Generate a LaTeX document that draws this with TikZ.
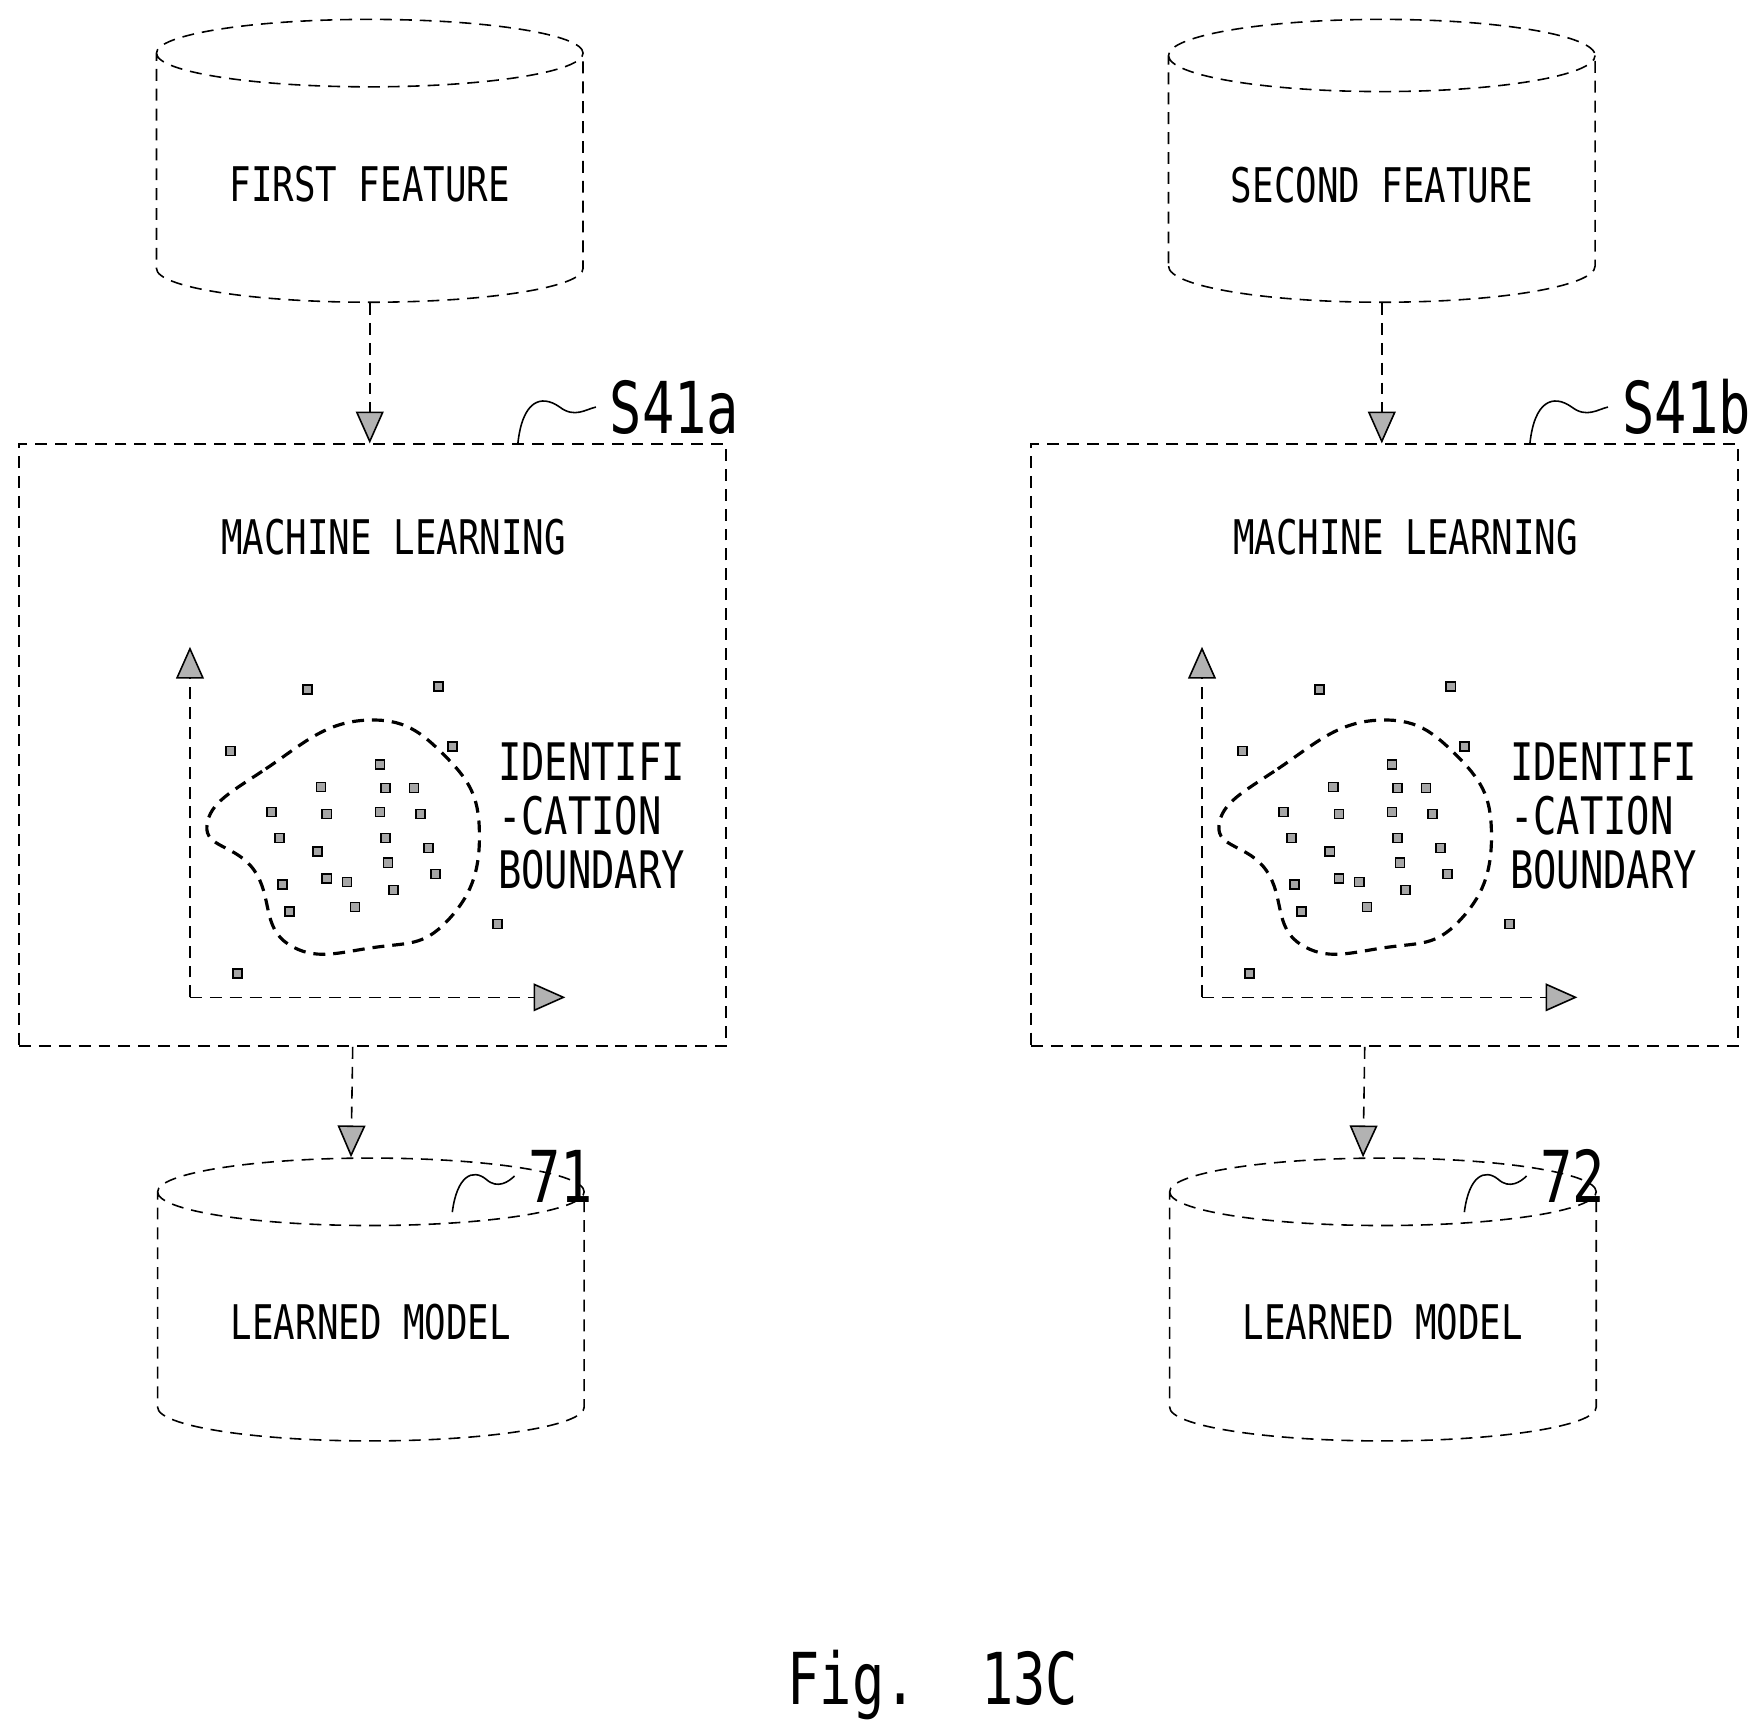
\documentclass[tikz,border=0pt]{standalone}
\usepackage{fontspec}
\setmainfont{DejaVu Sans Mono}[FakeStretch=0.75]
\usetikzlibrary{shapes.geometric,arrows.meta,positioning}
\begin{document}
\begin{tikzpicture}[x=0.01cm,y=-0.01cm,
    db/.style={cylinder,shape border rotate=90,aspect=0.22,draw,densely dashed,anchor=bottom,
      minimum width=3.77cm,minimum height=2.5cm,font=\fontsize{12}{14}\selectfont},
    mlbox/.style={draw,densely dashed,minimum width=6.25cm,minimum height=5.32cm},
    flow/.style={densely dashed,-{Triangle[fill=gray!60,length=8pt,width=7pt]}},
    lbl/.style={font=\fontsize{18}{20}\selectfont},
    pt/.style={draw,fill=gray!70,minimum size=0.08cm,inner sep=0pt}]
  \useasboundingbox (0,0) rectangle (1560,1525);
  \foreach \c/\x/\feat/\stp/\num in {a/0/FIRST FEATURE/S41a/71,b/895/SECOND FEATURE/S41b/72}{
    \begin{scope}[xshift=\x*0.01cm]
      \node[db] (feat\c) at (327,268) {\feat};
      \node[mlbox] (ml\c) at (329.5,659) {};
      \node[db] (model\c) at (328,1275) {LEARNED MODEL};
      \node[font=\fontsize{12}{14}\selectfont] (title\c) at (348,475) {MACHINE LEARNING};
      \draw[flow] (feat\c.bottom) -- (feat\c.bottom |- ml\c.north);
      \draw[flow] ([xshift=-5pt]ml\c.south) -- ([xshift=-5pt]model\c.top);
      % step label and number
      \node[lbl,anchor=west] (tag\c) at (527,360) {\stp};
      \draw (458,392) .. controls (462,355) and (478,348) .. (495,360)
        .. controls (508,370) and (518,362) .. (tag\c.west);
      \node[lbl,anchor=west] (num\c) at (455,1040) {\num};
      \draw (400,1072) .. controls (404,1040) and (418,1033) .. (430,1043)
        .. controls (440,1052) and (450,1045) .. (num\c.west);
      % plot
      \coordinate (o\c) at (168,882);
      \draw[flow] (o\c) -- (168,572);
      \draw[flow] (o\c) -- (500,882);
      \draw[densely dashed,thick] plot[smooth cycle,tension=0.8] coordinates
        {(183,730) (235,680) (322,637) (395,670) (424,740)
         (395,815) (330,838) (255,835) (225,770)};
      \foreach \px/\py in {272/610,388/607,204/664,400/660,440/817,210/861,
          336/676,284/696,341/697,366/697,240/718,289/720,336/718,372/720,
          247/741,341/741,281/753,379/750,343/763,250/782,289/777,307/780,
          348/787,385/773,256/806,314/802}
        \node[pt] at (\px,\py) {};
      \node[font=\fontsize{13}{13.6}\selectfont,align=left] (bound\c) at (523,722)
        {IDENTIFI\\-CATION\\BOUNDARY};
    \end{scope}
  }
  \node[font=\fontsize{18}{20}\selectfont] (fig) at (825,1490) {Fig.\ \ 13C};
\end{tikzpicture}
\end{document}
